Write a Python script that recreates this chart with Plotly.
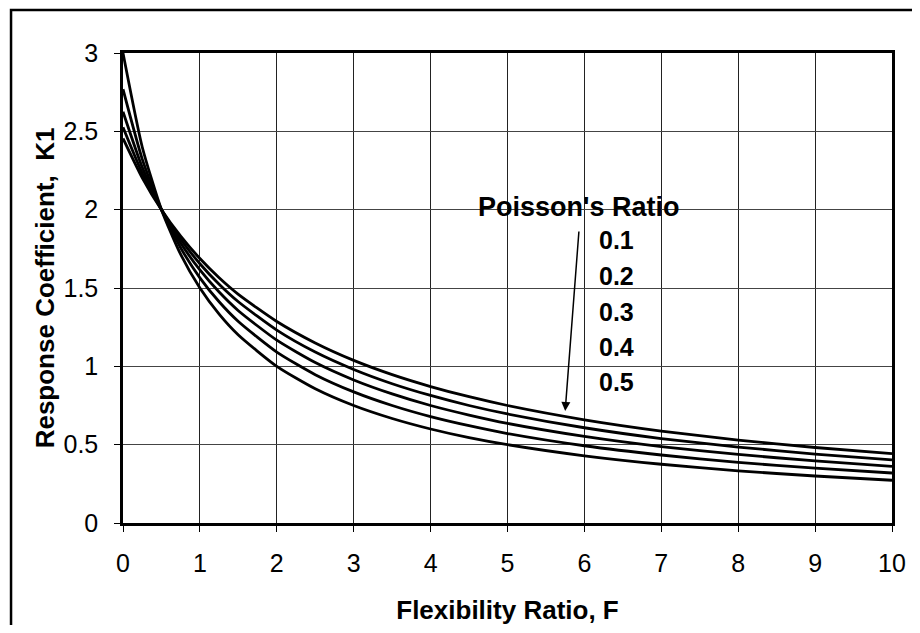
import plotly.graph_objects as go

F = [0, 0.25, 0.5, 0.75, 1, 1.25, 1.5, 2, 2.5, 3, 3.5, 4, 4.5, 5, 6, 7, 8, 9, 10]

k1_nu01 = [2.455, 2.204, 2.0, 1.831, 1.688, 1.565, 1.459, 1.286, 1.149, 1.038, 0.947, 0.871, 0.806, 0.750, 0.659, 0.587, 0.529, 0.482, 0.443]
k1_nu02 = [2.526, 2.233, 2.0, 1.811, 1.655, 1.524, 1.412, 1.231, 1.091, 0.980, 0.889, 0.814, 0.750, 0.696, 0.608, 0.539, 0.485, 0.440, 0.403]
k1_nu03 = [2.625, 2.270, 2.0, 1.787, 1.615, 1.474, 1.355, 1.167, 1.024, 0.913, 0.824, 0.750, 0.689, 0.636, 0.553, 0.488, 0.438, 0.396, 0.362]
k1_nu04 = [2.769, 2.323, 2.0, 1.756, 1.565, 1.412, 1.286, 1.091, 0.947, 0.837, 0.750, 0.679, 0.621, 0.571, 0.493, 0.434, 0.387, 0.350, 0.319]
k1_nu05 = [3.000, 2.400, 2.0, 1.714, 1.500, 1.333, 1.200, 1.000, 0.857, 0.750, 0.667, 0.600, 0.545, 0.500, 0.429, 0.375, 0.333, 0.300, 0.273]

series = [("0.1", k1_nu01), ("0.2", k1_nu02), ("0.3", k1_nu03), ("0.4", k1_nu04), ("0.5", k1_nu05)]
legend_labels = ["0.1", "0.2", "0.3", "0.4", "0.5"]
legend_title = "Poisson's Ratio"

FONT = "Liberation Sans, Arial, sans-serif"

fig = go.Figure()
for name, vals in series:
    fig.add_trace(go.Scatter(x=F, y=vals, mode="lines", name=name,
                             line=dict(color="black", width=2.8, shape="spline", smoothing=0.6),
                             showlegend=False))

fig.update_layout(
    width=904, height=617,
    margin=dict(l=115, r=20, t=45, b=102),
    paper_bgcolor="white", plot_bgcolor="white",
    font=dict(family=FONT, color="black", size=25),
)
fig.update_xaxes(range=[0, 10], dtick=1, tick0=0, showgrid=True, gridcolor="#222", gridwidth=1,
                 showline=True, linecolor="black", linewidth=2.5, mirror=True,
                 ticks="outside", ticklen=6, tickcolor="black", zeroline=False,
                 ticklabelstandoff=10, automargin=False,
                 tickfont=dict(size=25, family=FONT),
                 title=dict(text="<b>Flexibility Ratio, F</b>", font=dict(size=26, family=FONT), standoff=26))
fig.update_yaxes(range=[0, 3], dtick=0.5, tick0=0, showgrid=True, gridcolor="#444", gridwidth=1,
                 showline=True, linecolor="black", linewidth=2.5, mirror=True,
                 ticks="outside", ticklen=6, tickcolor="black", zeroline=False,
                 ticklabelstandoff=11, automargin=False,
                 tickfont=dict(size=25, family=FONT),
                 title=dict(text="<b>Response Coefficient,  K1</b>", font=dict(size=26, family=FONT), standoff=2))

# legend-like annotation text
fig.add_annotation(x=5.92, y=2.017, text="<b>" + legend_title + "</b>", showarrow=False,
                   xref="x", yref="y", font=dict(size=27, family=FONT))
label_y = [1.806, 1.576, 1.347, 1.123, 0.900]
for lab, yy in zip(legend_labels, label_y):
    fig.add_annotation(x=6.16, y=yy, text="<b>" + lab + "</b>", showarrow=False, xanchor="left",
                       xref="x", yref="y", font=dict(size=25, family=FONT))

# arrow
fig.add_annotation(x=5.75, y=0.715, ax=5.93, ay=1.87, xref="x", yref="y", axref="x", ayref="y",
                   text="", showarrow=True, arrowhead=2, arrowsize=1.2, arrowwidth=1.5, arrowcolor="black")

# outer chart border
fig.add_shape(type="rect", xref="paper", yref="paper", x0=-0.1456, x1=1.2, y0=-0.4, y1=1.0915,
              line=dict(color="black", width=2.5), layer="below")

fig.write_html("out.html")
